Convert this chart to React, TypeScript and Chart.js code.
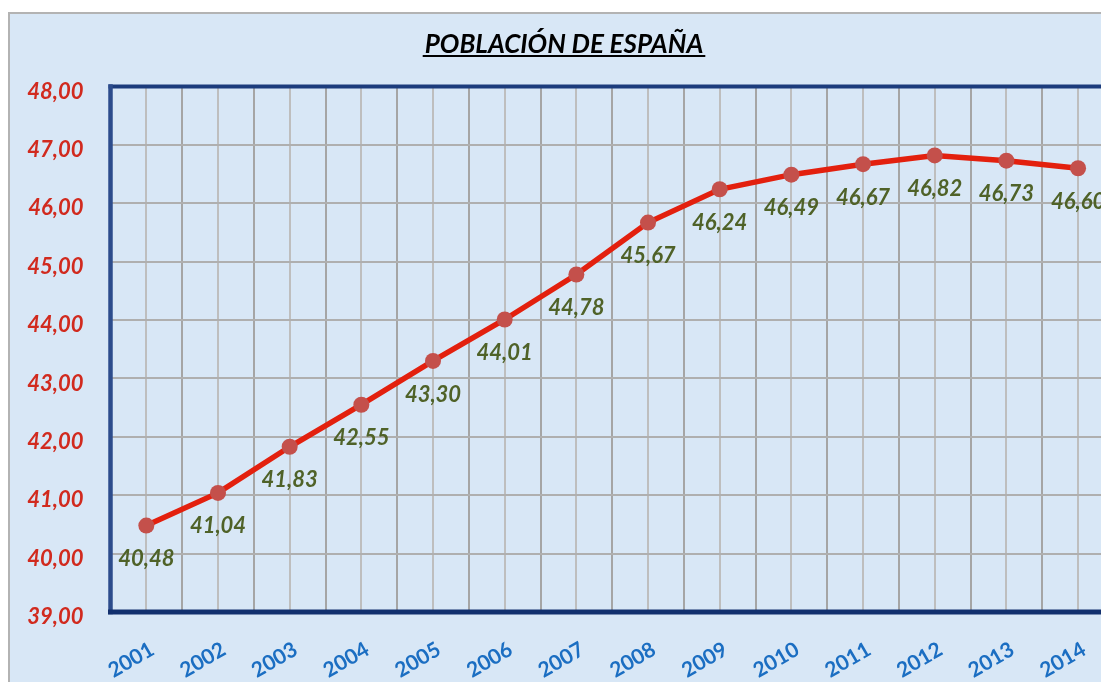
import React, { useEffect, useRef } from "react";
import { Chart, registerables } from "chart.js";

Chart.register(...registerables);

const years = ["2001", "2002", "2003", "2004", "2005", "2006", "2007", "2008", "2009", "2010", "2011", "2012", "2013", "2014"];
const population = [40.48, 41.04, 41.83, 42.55, 43.3, 44.01, 44.78, 45.67, 46.24, 46.49, 46.67, 46.82, 46.73, 46.6];
const yMin = 39;
const yMax = 48;
const chartTitle = "POBLACIÓN DE ESPAÑA";

const W = 1101;
const H = 682;
const FONT = "Lato";

const fmt = (v: number) => v.toFixed(2).replace(".", ",");
const isInt = (v: number) => Math.abs(v - Math.round(v)) < 1e-6;

const backgroundPlugin = {
  id: "bgPlugin",
  beforeDraw(chart: any) {
    const ctx = chart.ctx;
    ctx.save();
    ctx.fillStyle = "#ffffff";
    ctx.fillRect(0, 0, W, H);
    ctx.fillStyle = "#d8e7f6";
    ctx.fillRect(8, 12, W - 8, H - 12);
    ctx.strokeStyle = "#b3b3b3";
    ctx.lineWidth = 2;
    ctx.beginPath();
    ctx.moveTo(9, H);
    ctx.lineTo(9, 13);
    ctx.lineTo(W, 13);
    ctx.stroke();
    ctx.restore();
  },
  beforeDatasetsDraw(chart: any) {
    const { ctx, chartArea } = chart;
    ctx.save();
    ctx.strokeStyle = "#1c3c7c";
    ctx.lineCap = "square";
    ctx.lineWidth = 4;
    ctx.beginPath();
    ctx.moveTo(W + 5, chartArea.top);
    ctx.lineTo(chartArea.left, chartArea.top);
    ctx.stroke();
    ctx.lineWidth = 4.5;
    ctx.strokeStyle = "#2c4c8c";
    ctx.beginPath();
    ctx.moveTo(chartArea.left, chartArea.top);
    ctx.lineTo(chartArea.left, chartArea.bottom);
    ctx.stroke();
    ctx.lineWidth = 5;
    ctx.strokeStyle = "#12306e";
    ctx.beginPath();
    ctx.moveTo(chartArea.left, chartArea.bottom);
    ctx.lineTo(W + 5, chartArea.bottom);
    ctx.stroke();
    ctx.restore();
  },
  afterDatasetsDraw(chart: any) {
    const ctx = chart.ctx;
    const meta = chart.getDatasetMeta(0);
    ctx.save();
    ctx.font = `italic bold 22px ${FONT}`;
    ctx.fillStyle = "#4f6228";
    ctx.textAlign = "center";
    ctx.textBaseline = "middle";
    meta.data.forEach((pt: any, i: number) => {
      ctx.fillText(fmt(population[i]), pt.x, pt.y + 33.5);
    });
    ctx.restore();
  },
  afterDraw(chart: any) {
    const ctx = chart.ctx;
    ctx.save();
    ctx.font = `italic bold 26px ${FONT}`;
    ctx.fillStyle = "#000000";
    ctx.textAlign = "center";
    ctx.textBaseline = "alphabetic";
    const cx = 564;
    const base = 53;
    ctx.fillText(chartTitle, cx, base);
    const w = ctx.measureText(chartTitle).width;
    ctx.fillRect(cx - w / 2 - 2, base + 2, w + 4, 2);
    ctx.restore();
  },
};

export default function App() {
  const ref = useRef<HTMLCanvasElement | null>(null);

  useEffect(() => {
    if (!ref.current) return;
    const chart = new Chart(ref.current, {
      type: "line",
      data: {
        datasets: [
          {
            label: "Población",
            data: population.map((v, i) => ({ x: i, y: v })),
            borderColor: "#e3200e",
            borderWidth: 5.5,
            pointRadius: 8,
            pointBackgroundColor: "#c4504b",
            pointBorderWidth: 0,
            pointBorderColor: "#c4504b",
            tension: 0,
            fill: false,
          },
        ],
      },
      options: {
        animation: false,
        responsive: false,
        devicePixelRatio: 1,
        layout: { autoPadding: false, padding: { top: 86.5, left: 0, right: 0, bottom: 0 } },
        plugins: {
          legend: { display: false },
          tooltip: { enabled: false },
          title: { display: false },
        },
        scales: {
          x: {
            type: "linear",
            min: -0.5,
            max: 13.32,
            border: { display: false },
            grid: {
              drawTicks: false,
              lineWidth: 2,
              color: (c: any) => (c.tick && isInt(c.tick.value) ? "rgba(190,190,190,1)" : "rgba(165,165,165,1)"),
            },
            ticks: {
              stepSize: 0.5,
              includeBounds: false,
              autoSkip: false,
              minRotation: 30,
              maxRotation: 30,
              padding: 25,
              labelOffset: 6,
              color: "#1b6ec2",
              font: { family: FONT, size: 21, weight: "bold" },
              callback: (v: any) => (isInt(Number(v)) && years[Math.round(Number(v))] ? years[Math.round(Number(v))] : ""),
            },
            afterFit: (s: any) => {
              s.height = H - 612;
              s.paddingLeft = 0;
              s.paddingRight = 0;
            },
          },
          y: {
            type: "linear",
            min: yMin,
            max: yMax,
            border: { display: false },
            grid: { drawTicks: false, lineWidth: 2, color: "rgba(175,175,175,1)" },
            ticks: {
              stepSize: 1,
              padding: 27,
              labelOffset: 5,
              color: "#d12a1e",
              font: { family: FONT, size: 22, weight: "bold", style: "italic" },
              callback: (v: any) => fmt(Number(v)),
            },
            afterFit: (s: any) => {
              s.width = 110.5;
            },
          },
        },
      },
      plugins: [backgroundPlugin],
    } as any);
    return () => chart.destroy();
  }, []);

  return (
    <canvas
      ref={ref}
      width={W}
      height={H}
      style={{ position: "fixed", left: 0, top: 0, width: W, height: H, display: "block" }}
    />
  );
}
